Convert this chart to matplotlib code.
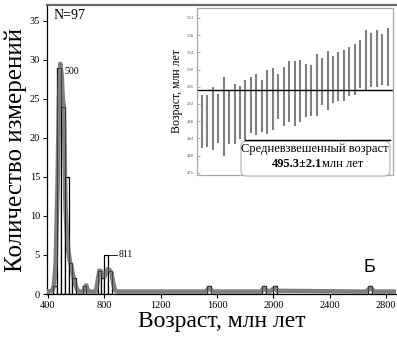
import matplotlib
matplotlib.use("Agg")
import matplotlib.pyplot as plt
from matplotlib.patches import FancyBboxPatch

# ---------------- data ----------------
bar_centers = [448, 478, 506, 534, 561, 587, 660, 765, 788, 814, 840, 1545, 1935, 2012, 2688]
bar_counts = [1, 29, 24, 15, 4, 2, 1, 3, 2, 5, 3, 1, 1, 1, 1]
bar_width = 26

curve_x = [395, 430, 442, 455, 468, 478, 488, 497, 505, 512, 518, 525, 535, 545, 555, 565, 575,
           590, 605, 620, 650, 662, 672, 684, 700, 740, 752, 765, 778, 790, 800, 812, 826, 840,
           852, 864, 876, 890, 1520, 1535, 1545, 1555, 1570, 1910, 1925, 1935, 1948, 1975,
           1995, 2012, 2028, 2660, 2676, 2688, 2700, 2720, 2880]
curve_y = [0.3, 0.4, 1.0, 4.0, 14.0, 25.0, 29.5, 28.0, 25.0, 24.0, 18.0, 11.0, 7.5, 5.5, 4.2, 3.6, 2.6,
           1.5, 0.6, 0.3, 0.3, 0.9, 1.1, 0.4, 0.3, 0.3, 1.5, 3.0, 2.9, 2.5, 2.2, 2.8, 3.2, 3.0,
           2.6, 1.3, 0.5, 0.3, 0.3, 0.6, 0.8, 0.6, 0.3, 0.3, 0.6, 0.8, 0.5, 0.3,
           0.6, 0.8, 0.4, 0.3, 0.6, 0.8, 0.6, 0.3, 0.3]

x_ticks = [400, 800, 1200, 1600, 2000, 2400, 2800]
y_ticks = [0, 5, 10, 15, 20, 25, 30, 35]

inset_low = [481.7, 482.1, 481.2, 482.9, 480.0, 482.7, 482.7, 483.8, 483.7, 485.2, 484.8, 485.4,
             485.1, 486.0, 488.5, 486.9, 487.9, 486.9, 487.7, 488.9, 489.1, 489.1, 491.8, 490.5,
             492.2, 492.6, 492.6, 493.9, 494.1, 495.7, 495.3, 495.9, 495.9, 496.5, 496.1]
inset_high = [494.0, 494.1, 495.9, 494.4, 498.2, 495.3, 496.7, 496.2, 497.6, 498.2, 499.0, 497.6,
              500.0, 500.3, 499.0, 500.6, 501.9, 501.9, 502.3, 501.3, 501.0, 503.6, 502.7, 504.4,
              503.1, 504.0, 504.6, 505.2, 505.9, 506.9, 509.1, 508.5, 509.1, 508.2, 509.6]
inset_ticks = [476, 480, 484, 488, 492, 496, 500, 504, 508, 512]
weighted_mean = 495.3

serif = ['Liberation Serif', 'DejaVu Serif']

# ---------------- figure ----------------
W, H = 397, 337
fig = plt.figure(figsize=(W / 100, H / 100), dpi=100)

def fx(px):
    return px / W

def fy(py):
    return 1 - py / H

ax = fig.add_axes([fx(47), fy(294), fx(396) - fx(47), fy(5) - fy(294)])
ax.bar(bar_centers, bar_counts, width=bar_width, color='white', edgecolor='black',
       linewidth=0.9, zorder=2)
ax.plot(curve_x, curve_y, color='#7f7f7f', linewidth=3.3, solid_joinstyle='round', zorder=3)
ax.bar(bar_centers, bar_counts, width=bar_width, facecolor='none', edgecolor='black',
       linewidth=0.6, zorder=4, alpha=0.6)

ax.set_xlim(393, 2871)
ax.set_ylim(0, 37.05)
ax.set_xticks(x_ticks)
ax.set_yticks(y_ticks)
ax.tick_params(direction='out', length=3, width=0.8, labelsize=7.5, pad=2)
for lab in ax.get_xticklabels() + ax.get_yticklabels():
    lab.set_family(serif)
ax.spines['right'].set_visible(False)
ax.spines['top'].set_color('#6a6a6a')
ax.spines['top'].set_linewidth(1.6)
ax.spines['left'].set_linewidth(0.9)
ax.spines['bottom'].set_linewidth(0.9)

ax.set_xlabel('Возраст, млн лет', family=serif, fontsize=17, labelpad=1)
ax.set_ylabel('Количество измерений', family=serif, fontsize=18, labelpad=2)

ax.text(0.02, 0.985, 'N=97', transform=ax.transAxes, family=serif, fontsize=10,
        va='top', ha='left')
ax.text(520, 28.5, '500', family=serif, fontsize=7, va='center', ha='left')
ax.plot([814, 890], [5, 5], color='black', linewidth=0.6, zorder=5)
ax.text(905, 5, '811', family=serif, fontsize=7, va='center', ha='left')
fig.text(fx(369), fy(268), 'Б', family=['Liberation Sans', 'DejaVu Sans'], fontsize=13,
         ha='center', va='center')

# ---------------- inset ----------------
ix = fig.add_axes([fx(197), fy(175), fx(393) - fx(197), fy(8) - fy(175)])
idx = list(range(1, len(inset_low) + 1))
ix.vlines(idx, inset_low, inset_high, color='#808080', linewidth=1.5)
ix.axhline(weighted_mean, color='black', linewidth=1.0)
ix.set_xlim(0.14, 35.97)
ix.set_ylim(475.5, 514.3)
ix.set_xticks([])
ix.set_yticks(inset_ticks)
ix.tick_params(axis='y', direction='in', length=2, width=0.5, labelsize=3.5,
               labelcolor='#666666', color='#888888', pad=2)
for lab in ix.get_yticklabels():
    lab.set_family(serif)
for s in ix.spines.values():
    s.set_color('#a8a8a8')
    s.set_linewidth(0.9)
ix.set_ylabel('Возраст, млн лет', family=serif, fontsize=8.5, labelpad=3)

box = FancyBboxPatch((fx(241), fy(176)), fx(390) - fx(241), fy(141) - fy(176),
                     boxstyle='round,pad=0,rounding_size=0.015', transform=fig.transFigure,
                     facecolor='white', edgecolor='#b0b0b0', linewidth=0.8, zorder=10)
fig.add_artist(box)
fig.add_artist(plt.Line2D([fx(245), fx(390)], [fy(140), fy(140)], transform=fig.transFigure,
                          color='black', linewidth=1.0, zorder=11))
fig.text(fx(315), fy(149), 'Средневзвешенный возраст', family=serif, fontsize=9,
         ha='center', va='center', zorder=12)
fig.text(fx(322), fy(164), '495.3±2.1', family=serif, fontsize=9, fontweight='bold',
         ha='right', va='center', zorder=12)
fig.text(fx(322), fy(164), 'млн лет', family=serif, fontsize=9,
         ha='left', va='center', zorder=12)

fig.savefig('out.png', dpi=100)
